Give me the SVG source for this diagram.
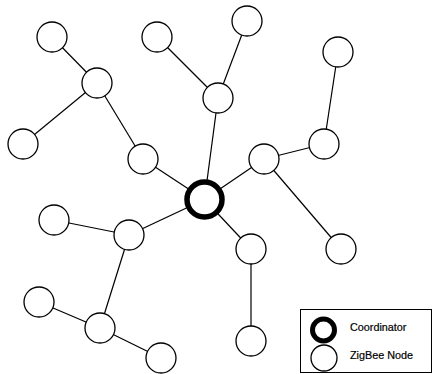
<svg xmlns="http://www.w3.org/2000/svg" width="432" height="374" viewBox="0 0 432 374">
<style>
.n{fill:#fff;stroke:#000;stroke-width:1.3}
.c{fill:#fff;stroke:#000;stroke-width:5.5}
.e{stroke:#000;stroke-width:1.2;fill:none}
.t{font-family:"Liberation Sans",Arial,sans-serif;font-size:10.8px;fill:#000;stroke:#000;stroke-width:0.2}
</style>
<rect width="432" height="374" fill="#fff"/>
<g id="connectors">
<line class="e" x1="52" y1="37" x2="97" y2="83"/>
<line class="e" x1="97" y1="83" x2="23" y2="144"/>
<line class="e" x1="97" y1="83" x2="143" y2="159"/>
<line class="e" x1="143" y1="159" x2="204.5" y2="199.5"/>
<line class="e" x1="157" y1="37" x2="218" y2="98"/>
<line class="e" x1="247" y1="21" x2="218" y2="98"/>
<line class="e" x1="218" y1="98" x2="204.5" y2="199.5"/>
<line class="e" x1="338" y1="52" x2="324" y2="144"/>
<line class="e" x1="324" y1="144" x2="264" y2="159"/>
<line class="e" x1="264" y1="159" x2="204.5" y2="199.5"/>
<line class="e" x1="264" y1="159" x2="341" y2="249"/>
<line class="e" x1="204.5" y1="199.5" x2="129" y2="235"/>
<line class="e" x1="129" y1="235" x2="54" y2="220"/>
<line class="e" x1="129" y1="235" x2="100" y2="328"/>
<line class="e" x1="100" y1="328" x2="39" y2="302"/>
<line class="e" x1="100" y1="328" x2="161" y2="358"/>
<line class="e" x1="204.5" y1="199.5" x2="251" y2="249"/>
<line class="e" x1="251" y1="249" x2="251" y2="341"/>
</g>
<g id="nA"><circle class="n" cx="52" cy="37" r="15"/></g>
<g id="nB"><circle class="n" cx="97" cy="83" r="15"/></g>
<g id="nC"><circle class="n" cx="23" cy="144" r="15"/></g>
<g id="nD"><circle class="n" cx="143" cy="159" r="15"/></g>
<g id="nE"><circle class="n" cx="157" cy="37" r="15"/></g>
<g id="nF"><circle class="n" cx="218" cy="98" r="15"/></g>
<g id="nG"><circle class="n" cx="247" cy="21" r="15"/></g>
<g id="nH"><circle class="n" cx="338" cy="52" r="15"/></g>
<g id="nI"><circle class="n" cx="324" cy="144" r="15"/></g>
<g id="nJ"><circle class="n" cx="264" cy="159" r="15"/></g>
<g id="nK"><circle class="n" cx="54" cy="220" r="15"/></g>
<g id="nL"><circle class="n" cx="129" cy="235" r="15"/></g>
<g id="nM"><circle class="n" cx="39" cy="302" r="15"/></g>
<g id="nN"><circle class="n" cx="100" cy="328" r="15"/></g>
<g id="nO"><circle class="n" cx="161" cy="358" r="15"/></g>
<g id="nP"><circle class="n" cx="251" cy="249" r="15"/></g>
<g id="nQ"><circle class="n" cx="341" cy="249" r="15"/></g>
<g id="nR"><circle class="n" cx="251" cy="341" r="15"/></g>
<g id="coordinator"><circle class="c" cx="204.5" cy="199.5" r="17.5"/></g>
<g id="legend">
<rect x="300.5" y="309.5" width="131" height="63" fill="#fff" stroke="#000" stroke-width="1"/>
<circle cx="323.5" cy="330" r="11" fill="#fff" stroke="#000" stroke-width="5"/>
<circle cx="324" cy="358" r="13" class="n"/>
<text class="t" x="350" y="331">Coordinator</text>
<text class="t" x="350" y="359">ZigBee Node</text>
</g>
</svg>
